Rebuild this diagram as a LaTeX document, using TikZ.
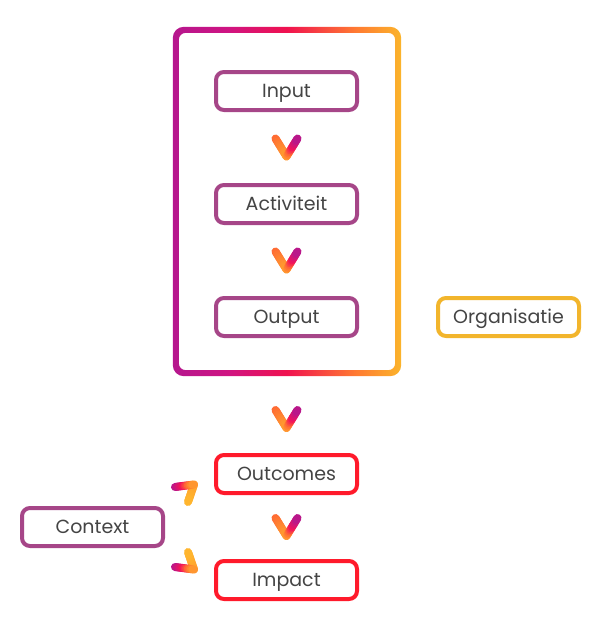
\documentclass[tikz,border=0pt]{standalone}
\usepackage{fontspec}
\setmainfont{Poppins}
\usetikzlibrary{calc}
\definecolor{boxpurple}{HTML}{A64688}
\definecolor{boxorange}{HTML}{F2B52C}
\definecolor{boxred}{HTML}{FF1A2B}
\definecolor{txt}{HTML}{444444}
\definecolor{gA}{HTML}{FFB52E}
\definecolor{gB}{HTML}{FF6B33}
\definecolor{gC}{HTML}{F3145A}
\definecolor{gD}{HTML}{B3178F}
\definecolor{fpu}{HTML}{B5178E}
\definecolor{fmg}{HTML}{CF1482}
\definecolor{fpk}{HTML}{F0124F}
\definecolor{forg}{HTML}{FF7A32}
\definecolor{fyl}{HTML}{FBB42B}
\pgfdeclarehorizontalshading{frameshade}{100bp}{color(0bp)=(fpu); color(25bp)=(fpu); color(37bp)=(fmg); color(50bp)=(fpk); color(65bp)=(forg); color(75bp)=(fyl); color(100bp)=(fyl)}
\newcommand\setgc[1]{%
  \ifnum#1<35 \pgfmathtruncatemacro\chq{#1*100/35}\colorlet{segc}{gB!\chq!gA}%
  \else\ifnum#1<60 \pgfmathtruncatemacro\chq{(#1-35)*100/25}\colorlet{segc}{gC!\chq!gB}%
  \else \pgfmathtruncatemacro\chq{(#1-60)*100/40}\colorlet{segc}{gD!\chq!gC}\fi\fi}
\newcommand\garm[4]{%
  \foreach \i in {0,...,11}{%
    \pgfmathtruncatemacro\chvt{#3+(#4-#3)*(\i+0.5)/12}%
    \pgfmathsetmacro\fa{\i/12}%
    \pgfmathsetmacro\fb{(\i+1)/12}%
    \setgc{\chvt}%
    \draw[segc, chevline] ($(#1)!\fa!(#2)$) -- ($(#1)!\fb!(#2)$);
  }}
\newcommand\downchev[1]{%
  \coordinate (#1L) at ($(#1)+(-11,-9)$);
  \coordinate (#1T) at ($(#1)+(0,9)$);
  \coordinate (#1R) at ($(#1)+(11,-9)$);
  \garm{#1L}{#1T}{36}{12}
  \garm{#1T}{#1R}{12}{100}}
\tikzset{
  chevline/.style={line width=8pt, line cap=round},
  box/.style={draw, line width=4pt, rounded corners=8pt, minimum width=141pt,
    minimum height=38pt, fill=white, text=txt, font=\fontsize{19}{21}\selectfont,
    text height=13.3pt, text depth=0pt, inner sep=0pt},
  pbox/.style={box, draw=boxpurple},
  obox/.style={box, draw=boxorange},
  rbox/.style={box, draw=boxred},
}
\begin{document}
\begin{tikzpicture}[x=1pt, y=-1pt]
\useasboundingbox (0,0) rectangle (596,618);
% frame
\node (frame) [minimum width=222pt, minimum height=343pt, inner sep=0pt] at (287,201.5) {};
\shade[shading=frameshade, even odd rule, rounded corners=11pt]
  ($(frame.south west)+(-3,3)$) rectangle ($(frame.north east)+(3,-3)$)
  [rounded corners=7pt] ($(frame.south west)+(3,-3)$) rectangle ($(frame.north east)+(-3,3)$);
% boxes
\node[pbox] (input) at (286.5,91) {Input};
\node[pbox] (activiteit) at (286.5,204) {Activiteit};
\node[pbox] (output) at (286.5,317) {Output};
\node[obox] (organisatie) at (508.5,317) {Organisatie};
\node[rbox] (outcomes) at (286.5,474) {Outcomes};
\node[rbox] (impact) at (286.5,580) {Impact};
\node[pbox] (context) at (92.5,527) {Context};
% chevrons
\coordinate (cA) at ($(input.south)!0.5!(activiteit.north)$);
\coordinate (cB) at ($(activiteit.south)!0.5!(output.north)$);
\coordinate (cC) at ($(outcomes.north)+(0,-34)$);
\coordinate (cD) at ($(outcomes.south)!0.5!(impact.north)$);
\downchev{cA}
\downchev{cB}
\downchev{cC}
\downchev{cD}
% context chevrons
\coordinate (uL) at ($(context.east)+(10,-40)$);
\coordinate (uT) at ($(context.east)+(29,-42.5)$);
\coordinate (uE) at ($(context.east)+(23,-25)$);
\coordinate (lL) at ($(context.east)+(10,40)$);
\coordinate (lT) at ($(context.east)+(29,42.5)$);
\coordinate (lE) at ($(context.east)+(23,25)$);
\garm{uT}{uE}{12}{0}
\garm{uL}{uT}{100}{12}
\garm{lT}{lE}{12}{0}
\garm{lL}{lT}{100}{12}
\end{tikzpicture}
\end{document}
